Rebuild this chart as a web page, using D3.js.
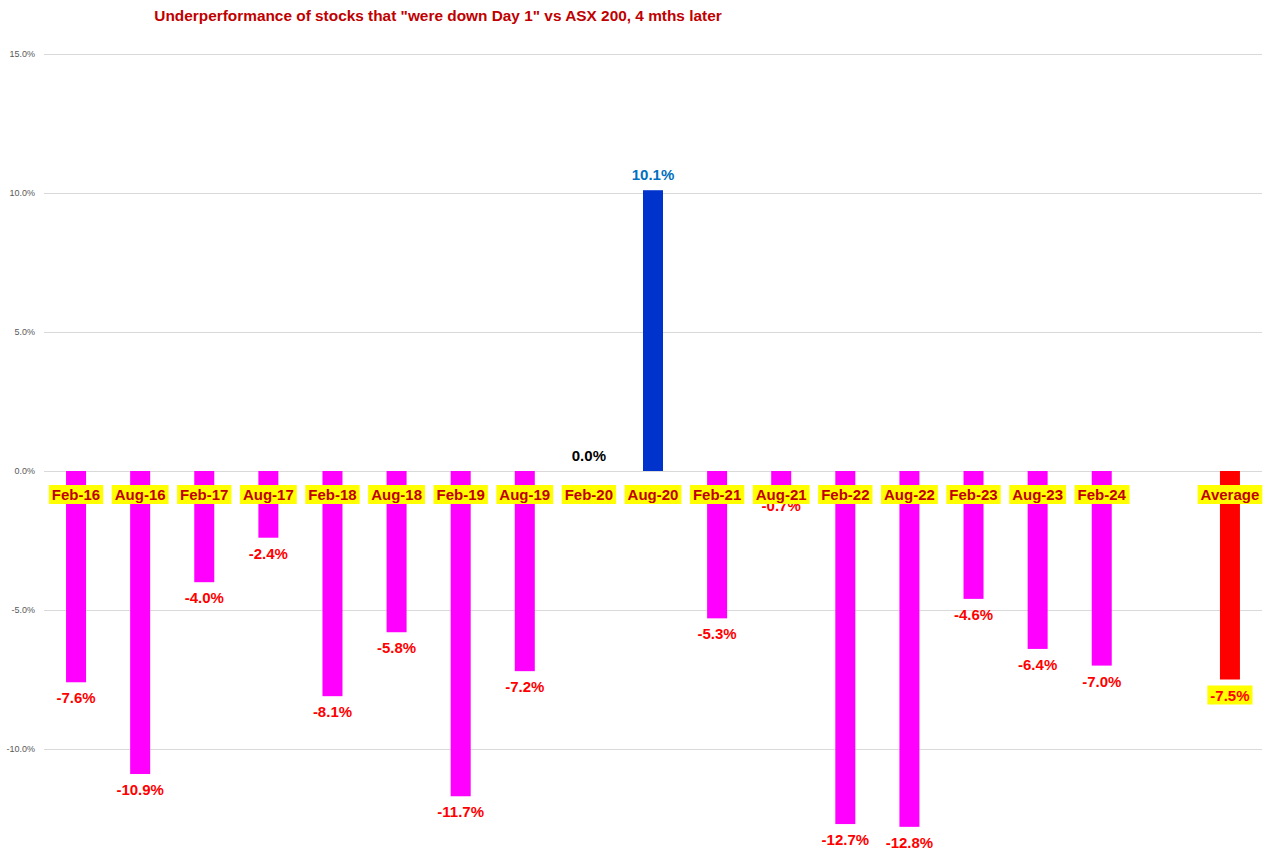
<!DOCTYPE html>
<html>
<head>
<meta charset="utf-8">
<script src="https://cdn.jsdelivr.net/npm/d3@7"></script>
<style>
  body { margin: 0; background: #fff; }
  svg { display: block; }
  text { font-family: "Liberation Sans", Arial, sans-serif; }
</style>
</head>
<body>
<svg id="chart" width="1274" height="852"></svg>
<script>
const title = 'Underperformance of stocks that "were down Day 1" vs ASX 200, 4 mths later';
const categories = ["Feb-16","Aug-16","Feb-17","Aug-17","Feb-18","Aug-18","Feb-19","Aug-19","Feb-20","Aug-20","Feb-21","Aug-21","Feb-22","Aug-22","Feb-23","Aug-23","Feb-24","","Average"];
const values = [-7.6,-10.9,-4.0,-2.4,-8.1,-5.8,-11.7,-7.2,0.0,10.1,-5.3,-0.7,-12.7,-12.8,-4.6,-6.4,-7.0,null,-7.5];
const yTicks = [-10,-5,0,5,10,15];

const svg = d3.select("#chart");
const plotLeft = 44, plotRight = 1262, plotTop = 54, plotBottom = 888;

const x = d3.scaleBand().domain(d3.range(categories.length)).range([plotLeft, plotRight]).paddingInner(0).paddingOuter(0);
const y = d3.scaleLinear().domain([-15, 15]).range([plotBottom, plotTop]);

// gridlines
const yAxis = d3.axisLeft(y).tickValues(yTicks).tickSize(-(plotRight - plotLeft)).tickFormat(d => d.toFixed(1) + "%");
const gAxis = svg.append("g").attr("transform", `translate(${plotLeft},0)`).call(yAxis);
gAxis.select(".domain").remove();
gAxis.selectAll(".tick line").attr("stroke", "#d9d9d9").attr("stroke-width", 1);
gAxis.selectAll(".tick text").attr("x", -9).attr("fill", "#595959").style("font-size", "9px").style("font-family", "'Liberation Sans', Arial, sans-serif");

// title
svg.append("text").attr("x", 438).attr("y", 21).attr("text-anchor", "middle")
  .attr("fill", "#c00000").style("font-size", "15.4px").style("font-weight", "bold").text(title);

const data = categories.map((c, i) => ({c, v: values[i], i})).filter(d => d.v !== null);
const barW = 20;
function barColor(d) {
  if (d.c === "Average") return "#ff0000";
  if (d.v > 0) return "#0033cc";
  return "#ff00ff";
}
svg.append("g").selectAll("rect").data(data.filter(d => d.v !== 0)).join("rect")
  .attr("x", d => x(d.i) + x.bandwidth() / 2 - barW / 2)
  .attr("width", barW)
  .attr("y", d => y(Math.max(0, d.v)))
  .attr("height", d => Math.abs(y(d.v) - y(0)))
  .attr("fill", barColor);

// value labels
const vl = svg.append("g");
data.forEach(d => {
  const cx = x(d.i) + x.bandwidth() / 2;
  let yy, col;
  if (d.v > 0) { yy = y(d.v) - 10; col = "#0070c0"; }
  else if (d.v === 0) { yy = y(0) - 10; col = "#000000"; }
  else { yy = y(d.v) + 21; col = "#ff0000"; }
  const g = vl.append("g");
  const t = g.append("text").attr("x", cx).attr("y", yy).attr("text-anchor", "middle")
    .attr("fill", col).style("font-size", "15px").style("font-weight", "bold")
    .text(d.v.toFixed(1) + "%");
  if (d.c === "Average") {
    const bb = t.node().getBBox();
    g.insert("rect", "text").attr("x", bb.x - 3).attr("y", bb.y - 1).attr("width", bb.width + 6).attr("height", bb.height + 2).attr("fill", "#ffff00");
  }
});

// category labels
const cl = svg.append("g");
data.forEach(d => {
  const cx = x(d.i) + x.bandwidth() / 2;
  const g = cl.append("g");
  const t = g.append("text").attr("x", cx).attr("y", y(0) + 29).attr("text-anchor", "middle")
    .attr("fill", "#c00000").style("font-size", "15px").style("font-weight", "bold").text(d.c);
  const bb = t.node().getBBox();
  g.insert("rect", "text").attr("x", bb.x - 3).attr("y", bb.y - 1).attr("width", bb.width + 6).attr("height", bb.height + 2).attr("fill", "#ffff00");
});
</script>
</body>
</html>
